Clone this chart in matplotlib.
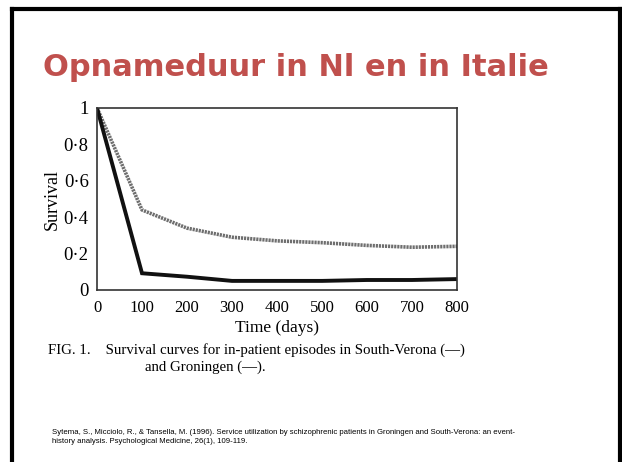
import matplotlib.pyplot as plt
import matplotlib.lines as mlines

# Survival curves
days = [0, 100, 200, 300, 400, 500, 600, 700, 800]
groningen = [1.0, 0.44, 0.34, 0.29, 0.27, 0.26, 0.245, 0.235, 0.24]
verona = [1.0, 0.092, 0.073, 0.05, 0.05, 0.05, 0.055, 0.055, 0.06]

x_ticks = [0, 100, 200, 300, 400, 500, 600, 700, 800]
y_ticks = [0, 0.2, 0.4, 0.6, 0.8, 1.0]
y_labels = ['0', '0·2', '0·4', '0·6', '0·8', '1']

serif = 'Liberation Serif'

fig = plt.figure(figsize=(6.22, 4.62), dpi=100)

# slide frame (black border on top, left and right)
fig.add_artist(mlines.Line2D([12 / 622, 12 / 622], [0, 1 - 9 / 462], color='black', lw=3))
fig.add_artist(mlines.Line2D([12 / 622, 1], [1 - 9 / 462, 1 - 9 / 462], color='black', lw=3))
fig.add_artist(mlines.Line2D([620 / 622, 620 / 622], [0, 1 - 9 / 462], color='black', lw=3))

fig.text(43 / 622, 1 - 67 / 462, 'Opnameduur in Nl en in Italie', fontsize=22,
         fontweight='bold', color='#C0504D', family='DejaVu Sans', va='center', ha='left')

ax = fig.add_axes([97 / 622, 1 - 290 / 462, 360 / 622, 182 / 462])
ax.plot(days, groningen, color='#6e6e6e', lw=2.6, ls=(0, (0.6, 0.25)))
ax.plot(days, verona, color='#111111', lw=2.8, solid_joinstyle='miter')

ax.set_xlim(0, 800)
ax.set_ylim(0, 1)
ax.set_xticks(x_ticks)
ax.set_xticklabels([str(t) for t in x_ticks], family=serif, fontsize=12)
ax.set_yticks(y_ticks)
ax.set_yticklabels(y_labels, family=serif, fontsize=13.5)
ax.tick_params(axis='x', length=0, pad=7)
ax.tick_params(axis='y', length=0, pad=6)
for s in ax.spines.values():
    s.set_color('#333333')
    s.set_linewidth(1.2)

ax.set_xlabel('Time (days)', family=serif, fontsize=12.5, labelpad=3)
ax.set_ylabel('Survival', family=serif, fontsize=13, labelpad=2)

fig.text(48 / 622, 1 - 350 / 462, 'FIG. 1.    Survival curves for in-patient episodes in South-Verona (\u2014)',
         family=serif, fontsize=10.7, va='center', ha='left')
fig.text(205 / 622, 1 - 367 / 462, 'and Groningen (\u2014).', family=serif, fontsize=10.7,
         va='center', ha='center')

fig.text(52 / 622, 1 - 437 / 462,
         'Sytema, S., Micciolo, R., & Tansella, M. (1996). Service utilization by schizophrenic '
         'patients in Groningen and South-Verona: an event-\nhistory analysis. Psychological '
         'Medicine, 26(1), 109-119.',
         family='Liberation Sans', fontsize=5.6, va='center', ha='left', linespacing=1.25)

fig.savefig('out.png', dpi=100)
